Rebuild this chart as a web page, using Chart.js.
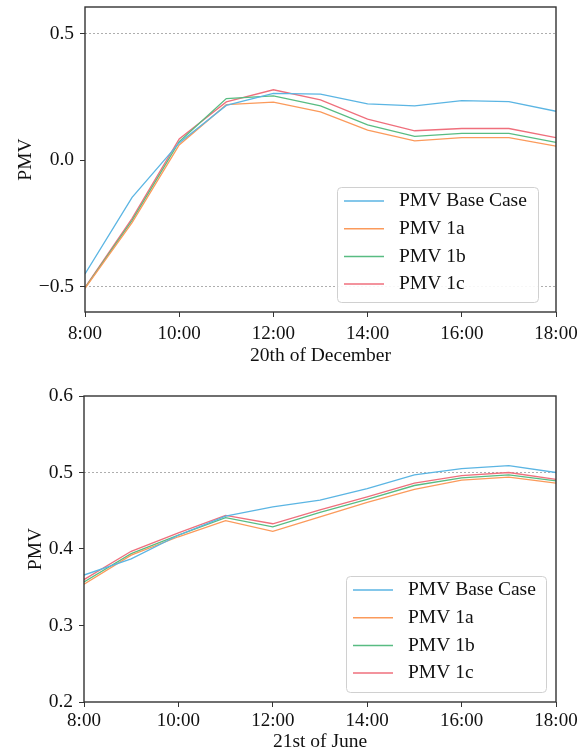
<!DOCTYPE html>
<html>
<head>
<meta charset="utf-8">
<script src="https://cdn.jsdelivr.net/npm/chart.js@4/dist/chart.umd.min.js"></script>
<style>
  html, body { margin: 0; padding: 0; background: #fff; }
  canvas { display: block; }
</style>
</head>
<body>
<canvas id="decChart" width="584" height="370"></canvas>
<canvas id="junChart" width="584" height="384"></canvas>
<script>
const hours = [8, 9, 10, 11, 12, 13, 14, 15, 16, 17, 18];
const xTickHours = [8, 10, 12, 14, 16, 18];
const seriesNames = ["PMV Base Case", "PMV 1a", "PMV 1b", "PMV 1c"];
const seriesColors = ["#5bb5e3", "#fb9a5b", "#58bc82", "#ef6f7c"];

// 20th of December
const decBase = [-0.450, -0.147, 0.068, 0.216, 0.264, 0.261, 0.222, 0.214, 0.235, 0.231, 0.193];
const dec1a = [-0.507, -0.247, 0.060, 0.219, 0.229, 0.191, 0.119, 0.076, 0.089, 0.089, 0.055];
const dec1b = [-0.505, -0.238, 0.073, 0.243, 0.254, 0.214, 0.139, 0.094, 0.106, 0.106, 0.070];
const dec1c = [-0.503, -0.230, 0.084, 0.230, 0.278, 0.238, 0.162, 0.116, 0.125, 0.125, 0.089];
const decTicks = [-0.5, 0, 0.5];
const decRefLines = [-0.5, 0.5];

// 21st of June
const junBase = [0.366, 0.387, 0.418, 0.443, 0.455, 0.464, 0.479, 0.497, 0.505, 0.509, 0.500];
const jun1a = [0.354, 0.392, 0.416, 0.437, 0.423, 0.442, 0.461, 0.478, 0.490, 0.494, 0.486];
const jun1b = [0.357, 0.394, 0.418, 0.441, 0.429, 0.448, 0.465, 0.483, 0.493, 0.497, 0.489];
const jun1c = [0.360, 0.397, 0.421, 0.444, 0.433, 0.451, 0.468, 0.486, 0.496, 0.500, 0.491];
const junTicks = [0.2, 0.3, 0.4, 0.5, 0.6];
const junRefLines = [0.5];

const FONT = "'Liberation Serif', 'Times New Roman', serif";
const TEXT = "#111";

// frame + legend box drawn inside the plot, like matplotlib
const framePlugin = {
  id: "frameLegend",
  afterDraw(chart, args, opts) {
    const ctx = chart.ctx;
    const a = chart.chartArea;
    ctx.save();
    ctx.strokeStyle = "#333";
    ctx.lineWidth = 1.4;
    ctx.strokeRect(a.left, a.top, a.right - a.left, a.bottom - a.top);

    const w = opts.width, h = opts.height;
    const x = a.right - opts.right - w;
    const y = a.bottom - opts.bottom - h;
    ctx.fillStyle = "rgba(255,255,255,0.9)";
    ctx.strokeStyle = "#d0d0d0";
    ctx.lineWidth = 1;
    ctx.beginPath();
    ctx.roundRect(x + 0.5, y + 0.5, w, h, 4);
    ctx.fill();
    ctx.stroke();

    ctx.font = "19.5px " + FONT;
    ctx.textBaseline = "middle";
    ctx.fillStyle = TEXT;
    chart.data.datasets.forEach((ds, i) => {
      const ry = y + 14 + i * 27.7;
      ctx.strokeStyle = ds.borderColor;
      ctx.lineWidth = 1.5;
      ctx.beginPath();
      ctx.moveTo(x + 7, ry);
      ctx.lineTo(x + 47, ry);
      ctx.stroke();
      ctx.fillText(ds.label, x + 62, ry);
    });
    ctx.restore();
  }
};

function fmt(v) {
  return (v < 0 ? "\u2212" : "") + Math.abs(v).toFixed(1);
}

function makeChart(id, series, title, yMin, yMax, yTicks, refLines, lay) {
  const datasets = series.map((arr, i) => ({
    label: seriesNames[i],
    data: hours.map((h, j) => ({ x: h, y: arr[j] })),
    borderColor: seriesColors[i],
    borderWidth: 1.3,
    pointRadius: 0,
    tension: 0,
    fill: false
  }));

  return new Chart(document.getElementById(id), {
    type: "line",
    data: { datasets: datasets },
    options: {
      responsive: false,
      animation: false,
      events: [],
      layout: { padding: { top: lay.top, right: 28, left: 0, bottom: 0 } },
      plugins: {
        legend: { display: false },
        tooltip: { enabled: false },
        frameLegend: lay.legend
      },
      scales: {
        x: {
          type: "linear",
          min: 8,
          max: 18,
          afterBuildTicks: (axis) => { axis.ticks = xTickHours.map((v) => ({ value: v })); },
          afterFit: (scale) => { scale.height = lay.xHeight; },
          ticks: {
            callback: (v) => v + ":00",
            font: { family: FONT, size: 19 },
            color: TEXT,
            padding: lay.xPad,
            maxRotation: 0
          },
          grid: { drawOnChartArea: false, tickLength: 5, tickColor: "#333", tickWidth: 1 },
          border: { display: false },
          title: {
            display: true,
            text: title,
            font: { family: FONT, size: 19.5 },
            color: TEXT,
            padding: { top: 0, bottom: lay.xTitlePad }
          }
        },
        y: {
          min: yMin,
          max: yMax,
          afterBuildTicks: (axis) => { axis.ticks = yTicks.map((v) => ({ value: v })); },
          afterFit: (scale) => { scale.width = lay.yWidth; },
          ticks: {
            callback: (v) => fmt(v),
            font: { family: FONT, size: 19.5, lineHeight: 0.1 },
            color: TEXT,
            padding: 6
          },
          grid: {
            color: (c) => (c.tick && refLines.includes(c.tick.value) ? "#9a9a9a" : "rgba(0,0,0,0)"),
            lineWidth: 0.8,
            tickLength: 5,
            tickColor: "#333",
            tickWidth: 1,
            tickBorderDash: []
          },
          border: { display: false, dash: [2, 2] },
          title: {
            display: true,
            text: "PMV",
            font: { family: FONT, size: 19.5 },
            color: TEXT,
            padding: { top: lay.yTitlePad, bottom: 0 }
          }
        }
      }
    },
    plugins: [framePlugin]
  });
}

makeChart("decChart", [decBase, dec1a, dec1b, dec1c], "20th of December",
  -0.6, 0.605, decTicks, decRefLines,
  { top: 7, xHeight: 58, yWidth: 85, xPad: 6, xTitlePad: 2, yTitlePad: 14,
    legend: { width: 201, height: 115, right: 18, bottom: 10 } });

makeChart("junChart", [junBase, jun1a, jun1b, jun1c], "21st of June",
  0.2, 0.6, junTicks, junRefLines,
  { top: 26, xHeight: 52, yWidth: 84, xPad: 3, xTitlePad: 0, yTitlePad: 24,
    legend: { width: 200, height: 116, right: 10, bottom: 10 } });
</script>
</body>
</html>
